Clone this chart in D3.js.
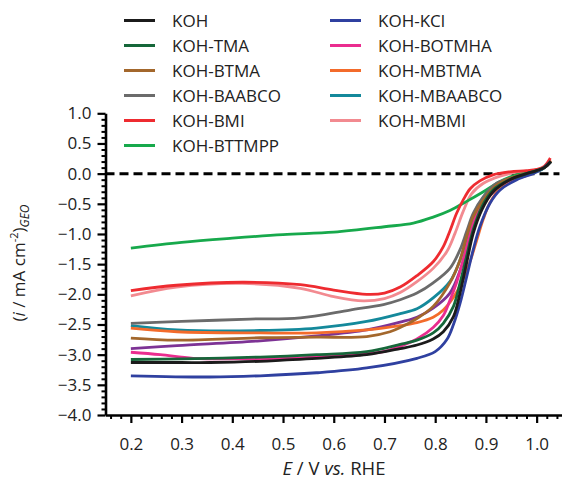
<!DOCTYPE html>
<html>
<head>
<meta charset="utf-8">
<script src="https://cdn.jsdelivr.net/npm/d3@7"></script>
<style>
  body { margin: 0; background: #fff; }
  text { font-family: "Open Sans", sans-serif; fill: #222; }
</style>
</head>
<body>
<div id="chart"></div>
<script>
// LSV curves, [E (V vs RHE), i (mA cm-2)]
var koh = [[0.2,-3.13],[0.3,-3.13],[0.356,-3.13],[0.455,-3.11],[0.5,-3.09],[0.566,-3.06],[0.665,-3.00],[0.731,-2.90],[0.764,-2.84],[0.796,-2.74],[0.816,-2.62],[0.836,-2.37],[0.849,-1.98],[0.862,-1.48],[0.875,-0.99],[0.892,-0.60],[0.914,-0.30],[0.947,-0.10],[0.98,0.0],[1.0,0.05],[1.015,0.1],[1.028,0.2]];
var kohTma = [[0.2,-3.08],[0.3,-3.07],[0.455,-3.04],[0.566,-3.00],[0.665,-2.95],[0.731,-2.83],[0.764,-2.76],[0.796,-2.64],[0.816,-2.48],[0.836,-2.20],[0.849,-1.81],[0.862,-1.37],[0.875,-0.93],[0.892,-0.55],[0.914,-0.27],[0.947,-0.10],[0.98,0.0],[1.0,0.05],[1.015,0.1],[1.028,0.2]];
var kohBtma = [[0.2,-2.725],[0.291,-2.76],[0.455,-2.72],[0.566,-2.71],[0.665,-2.70],[0.711,-2.62],[0.731,-2.55],[0.764,-2.40],[0.796,-2.20],[0.829,-1.81],[0.849,-1.43],[0.862,-1.04],[0.875,-0.71],[0.895,-0.435],[0.921,-0.19],[0.96,-0.04],[0.985,0.01],[1.0,0.05],[1.015,0.1],[1.028,0.2]];
var kohBaabco = [[0.2,-2.48],[0.3,-2.45],[0.435,-2.41],[0.534,-2.39],[0.632,-2.26],[0.698,-2.17],[0.731,-2.09],[0.764,-1.98],[0.796,-1.81],[0.829,-1.57],[0.849,-1.26],[0.862,-0.96],[0.875,-0.66],[0.895,-0.38],[0.921,-0.16],[0.961,-0.05],[0.985,0.01],[1.0,0.05],[1.015,0.1],[1.028,0.2]];
var kohBmi = [[0.2,-1.94],[0.29,-1.85],[0.42,-1.80],[0.534,-1.84],[0.6,-1.93],[0.665,-2.00],[0.7,-1.98],[0.731,-1.88],[0.764,-1.69],[0.796,-1.46],[0.816,-1.21],[0.829,-0.95],[0.842,-0.66],[0.855,-0.44],[0.869,-0.25],[0.888,-0.12],[0.914,-0.02],[0.947,0.03],[0.98,0.05],[1.0,0.07],[1.015,0.12],[1.027,0.26]];
var kohBttmpp = [[0.2,-1.235],[0.3,-1.14],[0.4,-1.07],[0.5,-1.01],[0.6,-0.97],[0.7,-0.88],[0.757,-0.82],[0.796,-0.72],[0.829,-0.61],[0.862,-0.46],[0.895,-0.30],[0.928,-0.13],[0.96,-0.02],[0.99,0.02],[1.01,0.07],[1.028,0.2]];
var kohKcl = [[0.2,-3.35],[0.356,-3.37],[0.455,-3.35],[0.566,-3.30],[0.665,-3.22],[0.764,-3.06],[0.8,-2.95],[0.823,-2.75],[0.836,-2.50],[0.849,-2.15],[0.862,-1.71],[0.875,-1.26],[0.888,-0.88],[0.908,-0.49],[0.928,-0.27],[0.961,-0.10],[0.993,0.0],[1.01,0.07],[1.028,0.2]];
var kohBotmha = [[0.2,-2.96],[0.258,-3.00],[0.323,-3.06],[0.421,-3.07],[0.5,-3.06],[0.6,-3.02],[0.698,-2.95],[0.731,-2.86],[0.764,-2.74],[0.796,-2.55],[0.816,-2.35],[0.829,-2.1],[0.842,-1.81],[0.855,-1.43],[0.869,-0.99],[0.882,-0.66],[0.901,-0.38],[0.928,-0.19],[0.961,-0.06],[0.985,0.01],[1.0,0.05],[1.015,0.1],[1.028,0.2]];
var kohMbtma = [[0.2,-2.56],[0.291,-2.62],[0.455,-2.64],[0.566,-2.64],[0.665,-2.59],[0.731,-2.52],[0.764,-2.47],[0.796,-2.38],[0.816,-2.26],[0.836,-2.05],[0.855,-1.75],[0.869,-1.45],[0.882,-1.10],[0.895,-0.75],[0.908,-0.48],[0.928,-0.24],[0.947,-0.13],[0.98,-0.03],[1.0,0.04],[1.015,0.1],[1.028,0.22]];
var kohMbaabco = [[0.2,-2.52],[0.291,-2.59],[0.455,-2.60],[0.566,-2.56],[0.665,-2.45],[0.731,-2.32],[0.764,-2.24],[0.796,-2.06],[0.829,-1.79],[0.849,-1.43],[0.862,-1.07],[0.875,-0.71],[0.892,-0.435],[0.914,-0.215],[0.947,-0.08],[0.98,0.0],[1.0,0.05],[1.015,0.1],[1.028,0.2]];
var kohMbmi = [[0.2,-2.025],[0.29,-1.88],[0.42,-1.82],[0.534,-1.90],[0.6,-2.04],[0.658,-2.11],[0.7,-2.07],[0.731,-1.97],[0.764,-1.79],[0.796,-1.57],[0.823,-1.29],[0.839,-0.99],[0.855,-0.63],[0.872,-0.33],[0.895,-0.16],[0.928,-0.04],[0.96,0.02],[0.99,0.04],[1.01,0.08],[1.027,0.22]];
var unlabeled = [[0.2,-2.90],[0.291,-2.85],[0.455,-2.77],[0.566,-2.69],[0.665,-2.59],[0.731,-2.46],[0.764,-2.38],[0.796,-2.23],[0.829,-1.98],[0.852,-1.54],[0.869,-1.10],[0.882,-0.77],[0.901,-0.435],[0.928,-0.215],[0.961,-0.08],[0.985,0.01],[1.0,0.05],[1.015,0.1],[1.028,0.2]];

var seriesNames = ["KOH", "KOH-TMA", "KOH-BTMA", "KOH-BAABCO", "KOH-BMI", "KOH-BTTMPP",
                   "KOH-KCl", "KOH-BOTMHA", "KOH-MBTMA", "KOH-MBAABCO", "KOH-MBMI", ""];
var seriesData = [koh, kohTma, kohBtma, kohBaabco, kohBmi, kohBttmpp,
                  kohKcl, kohBotmha, kohMbtma, kohMbaabco, kohMbmi, unlabeled];
var seriesColors = ["#1b1b1b", "#16673a", "#a3672c", "#6b6b6b", "#ee2b30", "#17a94c",
                    "#2f40a0", "#ea2d8f", "#f36b2b", "#14899b", "#f28a90", "#7d3395"];

var xTicks = [0.2, 0.3, 0.4, 0.5, 0.6, 0.7, 0.8, 0.9, 1.0];
var yTicks = [-4, -3.5, -3, -2.5, -2, -1.5, -1, -0.5, 0, 0.5, 1];

var svgWidth = 562, svgHeight = 479;

var svg = d3.select("#chart").append("svg")
  .attr("width", svgWidth)
  .attr("height", svgHeight);

var x = d3.scaleLinear().domain([0.15, 1.05]).range([105.5, 562]);
var y = d3.scaleLinear().domain([-4, 1]).range([415, 113.3]);

// zero line
svg.append("line")
  .attr("x1", x(0.15)).attr("x2", x(1.045))
  .attr("y1", y(0)).attr("y2", y(0))
  .attr("stroke", "#000")
  .attr("stroke-width", 3)
  .attr("stroke-dasharray", "9,5");

// curves (draw in reverse so KOH ends on top)
var line = d3.line()
  .x(function(d) { return x(d[0]); })
  .y(function(d) { return y(d[1]); })
  .curve(d3.curveCatmullRom.alpha(0.5));

var order = [11, 10, 9, 8, 7, 5, 4, 3, 2, 6, 1, 0];
order.forEach(function(i) {
  svg.append("path")
    .datum(seriesData[i])
    .attr("fill", "none")
    .attr("stroke", seriesColors[i])
    .attr("stroke-width", 2.8)
    .attr("stroke-linejoin", "round")
    .attr("d", line);
});

// axes
var fmt = d3.format(".1f");
var xMinor = d3.range(0.16, 1.05, 0.02).filter(function(v) {
  return Math.abs(v * 10 - Math.round(v * 10)) > 0.01;
});
var yMinor = d3.range(-4, 1.01, 0.1).filter(function(v) {
  return Math.abs(v * 2 - Math.round(v * 2)) > 0.01;
});

svg.append("g")
  .attr("transform", "translate(0," + y(-4) + ")")
  .call(d3.axisBottom(x).tickValues(xMinor).tickSize(4).tickSizeOuter(0).tickFormat(""))
  .call(function(g) { g.select(".domain").remove(); })
  .selectAll("line").attr("stroke-width", 2);

var gx = svg.append("g")
  .attr("transform", "translate(0," + y(-4) + ")")
  .call(d3.axisBottom(x).tickValues(xTicks).tickSize(8).tickSizeOuter(0).tickPadding(15).tickFormat(fmt));
gx.select(".domain").attr("stroke-width", 2.6);
gx.selectAll("line").attr("stroke-width", 2.2);
gx.selectAll("text").style("font-size", "17px").attr("fill", "#222");

svg.append("g")
  .attr("transform", "translate(" + x(0.15) + ",0)")
  .call(d3.axisLeft(y).tickValues(yMinor).tickSize(4).tickSizeOuter(0).tickFormat(""))
  .call(function(g) { g.select(".domain").remove(); })
  .selectAll("line").attr("stroke-width", 2);

var gy = svg.append("g")
  .attr("transform", "translate(" + x(0.15) + ",0)")
  .call(d3.axisLeft(y).tickValues(yTicks).tickSize(8).tickSizeOuter(0).tickPadding(6).tickFormat(fmt));
gy.select(".domain").attr("stroke-width", 2.6);
gy.selectAll("line").attr("stroke-width", 2.2);
gy.selectAll("text").style("font-size", "17px").attr("fill", "#222");

// axis titles
var xt = svg.append("text")
  .attr("transform", "translate(334,475)")
  .attr("text-anchor", "middle")
  .style("font-size", "18.5px");
xt.append("tspan").style("font-style", "italic").text("E");
xt.append("tspan").text(" / V ");
xt.append("tspan").style("font-style", "italic").text("vs.");
xt.append("tspan").text(" RHE");

var yt = svg.append("text")
  .attr("transform", "translate(25,263) rotate(-90)")
  .attr("text-anchor", "middle")
  .style("font-size", "17px");
yt.append("tspan").text("(");
yt.append("tspan").style("font-style", "italic").text("i");
yt.append("tspan").text(" / mA cm");
yt.append("tspan").attr("dy", -7).style("font-size", "11px").text("-2");
yt.append("tspan").attr("dy", 7).text(")");
yt.append("tspan").attr("dy", 4).style("font-size", "12px").style("font-style", "italic").text("GEO");

// legend
var legendCols = [124, 330];
seriesNames.forEach(function(name, i) {
  if (!name) return;
  var col = i < 6 ? 0 : 1;
  var row = i < 6 ? i : i - 6;
  var ly = 20.5 + row * 25;
  var lx = legendCols[col];
  svg.append("line")
    .attr("x1", lx).attr("x2", lx + 31)
    .attr("y1", ly).attr("y2", ly)
    .attr("stroke", seriesColors[i])
    .attr("stroke-width", 3);
  svg.append("text")
    .attr("x", lx + 48).attr("y", ly)
    .attr("dy", "0.36em")
    .style("font-size", "17px")
    .text(name);
});
</script>
</body>
</html>
